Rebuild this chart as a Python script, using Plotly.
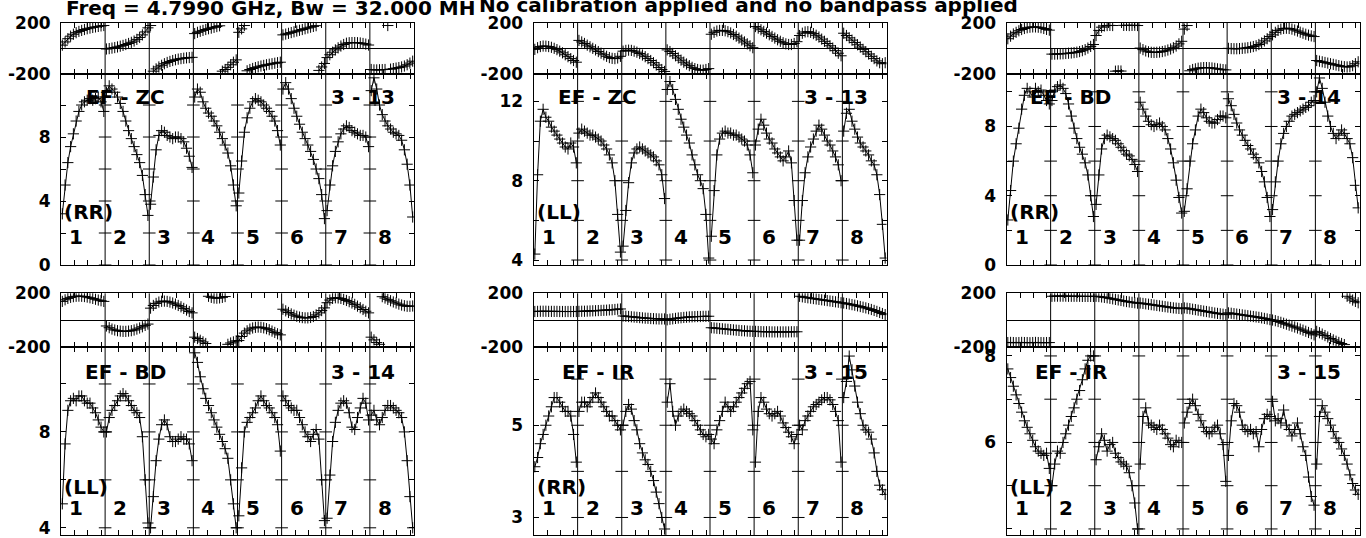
import plotly.graph_objects as go

# ---------------- text content ----------------
title_left = "Freq = 4.7990 GHz, Bw = 32.000 MH"
title_right = "No calibration applied and no bandpass applied"
if_labels = ["1", "2", "3", "4", "5", "6", "7", "8"]
baselines = ["EF - ZC", "EF - ZC", "EF - BD", "EF - BD", "EF - IR", "EF - IR"]
polarizations = ["(RR)", "(LL)", "(RR)", "(LL)", "(RR)", "(LL)"]
source_ids = ["3 - 13", "3 - 13", "3 - 14", "3 - 14", "3 - 15", "3 - 15"]

# ---------------- amplitudes (per IF) ----------------
amp_ef_zc_rr = [
    [3.2, 5.0, 6.4, 7.4, 8.2, 9.0, 9.6, 10.0, 10.2, 10.3, 10.4, 10.3, 10.4, 10.5, 10.2, 9.6],
    [10.8, 11.2, 11.0, 10.8, 10.5, 10.1, 9.6, 9.0, 8.4, 7.9, 7.4, 6.9, 6.4, 5.6, 4.4, 3.1],
    [3.8, 5.5, 7.2, 8.1, 8.4, 8.3, 8.1, 8.0, 7.9, 8.0, 8.0, 7.9, 7.7, 7.3, 6.8, 6.1],
    [10.5, 11.0, 10.8, 10.2, 9.8, 9.5, 9.3, 9.0, 8.7, 8.3, 7.9, 7.5, 7.0, 6.2, 5.0, 3.7],
    [4.5, 6.5, 8.3, 9.2, 9.8, 10.2, 10.4, 10.3, 10.2, 10.0, 9.8, 9.6, 9.3, 9.0, 8.4, 7.5],
    [11.0, 11.4, 11.0, 10.4, 9.8, 9.3, 8.8, 8.3, 7.9, 7.5, 7.1, 6.6, 6.0, 5.4, 4.4, 2.9],
    [3.4, 5.0, 6.2, 7.1, 7.7, 8.2, 8.5, 8.7, 8.6, 8.4, 8.3, 8.2, 8.1, 8.1, 8.0, 7.4],
    [10.9, 11.7, 11.0, 10.0, 9.4, 9.0, 8.7, 8.5, 8.3, 8.2, 8.1, 7.8, 7.2, 6.3, 5.0, 3.0],
]
amp_ef_zc_ll = [
    [4.3, 8.3, 11.0, 11.6, 11.2, 11.0, 10.7, 10.5, 10.3, 10.1, 9.9, 9.7, 9.6, 9.9, 9.7, 8.9],
    [10.4, 10.6, 10.5, 10.4, 10.3, 10.3, 10.2, 10.1, 10.0, 9.8, 9.6, 9.3, 8.9, 8.0, 6.3, 4.4],
    [4.7, 6.5, 7.9, 8.9, 9.4, 9.6, 9.7, 9.6, 9.5, 9.4, 9.3, 9.2, 9.0, 8.8, 8.3, 7.1],
    [12.6, 13.0, 12.6, 12.1, 11.6, 11.1, 10.7, 10.3, 9.9, 9.3, 8.8, 8.3, 8.0, 7.6, 6.3, 4.1],
    [5.2, 7.5, 9.3, 10.1, 10.4, 10.5, 10.4, 10.4, 10.3, 10.3, 10.2, 10.1, 10.0, 9.8, 9.3, 8.4],
    [9.8, 10.6, 11.1, 10.8, 10.4, 10.1, 9.9, 9.6, 9.4, 9.2, 9.0, 9.2, 9.5, 8.9, 7.0, 5.0],
    [5.0, 7.0, 8.4, 9.2, 9.7, 10.1, 10.5, 10.8, 10.6, 10.3, 10.0, 9.8, 9.5, 9.2, 8.8, 8.0],
    [10.5, 11.4, 11.6, 11.0, 10.6, 10.2, 9.9, 9.7, 9.5, 9.3, 9.0, 8.8, 8.3, 7.3, 5.8, 4.1],
]
amp_ef_bd_rr = [
    [2.6, 4.3, 6.0, 7.0, 7.9, 9.0, 9.8, 10.2, 10.0, 9.7, 10.2, 10.0, 10.1, 9.8, 9.5, 9.3],
    [9.5, 10.1, 10.3, 10.4, 10.2, 9.9, 9.3, 8.6, 7.9, 7.3, 6.8, 6.4, 5.9, 5.2, 4.0, 2.8],
    [3.5, 5.2, 6.7, 7.3, 7.5, 7.4, 7.3, 7.2, 7.0, 6.8, 6.6, 6.4, 6.3, 6.1, 5.8, 5.4],
    [9.4, 9.0, 8.6, 8.3, 8.1, 8.0, 8.1, 8.2, 8.0, 7.8, 7.3, 6.7, 5.9, 4.9, 3.9, 3.0],
    [3.1, 4.4, 6.0, 7.0, 7.8, 8.6, 9.0, 8.8, 8.5, 8.3, 8.2, 8.2, 8.4, 8.6, 8.6, 8.5],
    [9.6, 9.2, 8.7, 8.2, 7.8, 7.5, 7.2, 6.9, 6.7, 6.4, 6.2, 5.9, 5.4, 4.8, 3.9, 2.8],
    [3.2, 4.8, 6.0, 7.0, 7.6, 8.0, 8.3, 8.6, 8.7, 8.8, 8.9, 9.0, 9.1, 9.2, 9.4, 9.5],
    [10.0, 10.8, 10.2, 9.4, 8.6, 8.0, 7.6, 7.3, 7.5, 7.8, 7.6, 7.3, 7.0, 6.2, 4.6, 3.3],
]
amp_ef_bd_ll = [
    [5.0, 7.5, 8.9, 9.3, 9.4, 9.3, 9.5, 9.5, 9.3, 9.2, 9.2, 9.0, 8.8, 8.5, 8.2, 8.0],
    [8.0, 8.6, 8.9, 9.1, 9.3, 9.5, 9.6, 9.5, 9.3, 9.1, 8.9, 8.8, 8.6, 7.8, 6.0, 4.2],
    [4.0, 5.3, 6.8, 7.7, 8.3, 8.5, 8.3, 7.8, 7.6, 7.6, 7.7, 7.8, 7.7, 7.7, 7.5, 6.8],
    [11.3, 10.9, 10.3, 9.8, 9.4, 9.1, 8.8, 8.5, 8.2, 7.9, 7.6, 7.3, 6.9, 6.0, 5.0, 4.0],
    [4.5, 6.5, 8.0, 8.4, 8.6, 8.8, 9.0, 9.3, 9.5, 9.3, 9.1, 9.0, 8.8, 8.6, 8.3, 7.2],
    [9.5, 9.3, 9.1, 9.0, 8.9, 8.9, 8.6, 8.3, 8.0, 7.8, 7.6, 7.9, 8.1, 7.7, 6.0, 4.3],
    [4.4, 6.2, 7.6, 8.4, 8.9, 9.2, 9.3, 9.2, 8.8, 8.2, 8.1, 8.6, 9.0, 9.4, 9.2, 8.5],
    [8.7, 8.9, 8.5, 8.3, 8.6, 8.9, 9.1, 9.1, 9.0, 8.9, 8.8, 8.6, 8.0, 6.8, 5.3, 4.0],
]
amp_ef_ir_rr = [
    [4.1, 4.3, 4.6, 4.8, 5.0, 5.2, 5.4, 5.6, 5.6, 5.5, 5.4, 5.3, 5.3, 5.2, 4.8, 4.2],
    [5.3, 5.5, 5.5, 5.4, 5.5, 5.6, 5.7, 5.6, 5.5, 5.4, 5.3, 5.2, 5.2, 5.1, 5.0, 4.9],
    [5.0, 5.3, 5.45, 5.35, 5.1, 4.9, 4.6, 4.4, 4.25, 4.15, 4.0, 3.8, 3.55, 3.3, 3.0, 2.75],
    [5.5, 5.9, 5.3, 5.0, 5.2, 5.3, 5.35, 5.3, 5.25, 5.2, 5.1, 5.0, 4.9, 4.8, 4.75, 4.8],
    [4.7, 4.6, 4.9, 5.1, 5.3, 5.5, 5.4, 5.3, 5.4, 5.5, 5.6, 5.7, 5.8, 5.9, 5.95, 4.9],
    [4.2, 5.3, 5.6, 5.5, 5.35, 5.25, 5.2, 5.25, 5.3, 5.2, 5.05, 4.95, 4.85, 4.75, 4.6, 4.8],
    [5.0, 4.9, 5.1, 5.2, 5.3, 5.4, 5.45, 5.5, 5.55, 5.6, 5.6, 5.55, 5.45, 5.3, 5.1, 4.2],
    [5.6, 5.95, 6.5, 6.2, 5.85, 5.5, 5.25, 5.0, 4.9, 4.85, 4.7, 4.4, 4.0, 3.7, 3.6, 3.5],
]
amp_ef_ir_ll = [
    [7.7, 7.5, 7.3, 7.1, 6.9, 6.7, 6.5, 6.35, 6.2, 6.05, 5.9, 5.8, 5.75, 5.7, 5.75, 5.4],
    [5.0, 5.5, 5.8, 5.75, 6.0, 6.2, 6.4, 6.6, 6.8, 7.0, 7.2, 7.45, 7.7, 7.9, 8.0, 8.0],
    [5.6, 5.9, 6.2, 6.05, 5.8, 5.95, 6.0, 5.75, 5.65, 5.55, 5.5, 5.45, 5.3, 5.0, 4.6, 4.0],
    [5.5, 6.6, 6.8, 6.45, 6.4, 6.35, 6.3, 6.4, 6.3, 6.2, 6.1, 5.95, 5.9, 6.05, 6.0, 6.0],
    [6.45, 6.7, 6.9, 7.0, 6.85, 6.65, 6.5, 6.35, 6.25, 6.2, 6.25, 6.35, 6.4, 6.2, 5.95, 5.1],
    [5.7, 6.5, 6.9, 6.85, 6.7, 6.4, 6.3, 6.25, 6.3, 6.2, 6.25, 5.9, 6.3, 6.55, 6.65, 6.6],
    [6.95, 6.5, 6.55, 6.45, 6.75, 6.4, 6.3, 6.15, 6.3, 6.45, 6.2, 5.9, 5.7, 5.2, 4.75, 4.55],
    [5.5, 6.6, 6.85, 6.7, 6.55, 6.4, 6.25, 6.1, 6.0, 5.85, 5.7, 5.5, 5.25, 5.05, 4.9, 4.8],
]

# ---------------- phases in degrees (per IF) ----------------
phase_ef_zc_rr = [
    [25, 50, 75, 95, 110, 122, 132, 140, 147, 153, 158, 163, 167, 171, 175, 178],
    [-5, -2, 2, 6, 11, 17, 23, 30, 38, 47, 57, 70, 85, 105, 128, 160],
    [178, -178, -160, -145, -132, -120, -110, -102, -95, -89, -84, -80, -77, -74, -72, -70],
    [115, 125, 133, 140, 147, 153, 158, 164, 170, 176, -178, -165, -148, -128, -108, -90],
    [125, 152, 178, -175, -165, -157, -150, -144, -138, -133, -128, -124, -120, -116, -112, -108],
    [105, 111, 117, 123, 129, 135, 141, 147, 153, 159, 165, 171, 177, -172, -145, -118],
    [-72, -50, -30, -12, 4, 18, 30, 40, 44, 45, 45, 44, 42, 38, 33, 26],
    [-165, -168, -168, -167, -166, -165, 178, -162, -158, -154, -150, -145, -138, -128, -115, -100],
]
phase_ef_zc_ll = [
    [-8, 5, 14, 18, 17, 14, 8, 0, -10, -22, -35, -50, -65, -80, -95, -108],
    [62, 50, 38, 25, 12, 0, -12, -25, -38, -50, -62, -72, -78, -80, -75, -62],
    [-22, -16, -14, -16, -22, -30, -40, -52, -65, -80, -95, -112, -130, -150, -165, -180],
    [-12, -25, -40, -58, -75, -92, -108, -122, -135, -148, -158, -165, -170, -170, -165, -158],
    [110, 125, 135, 140, 140, 137, 130, 120, 108, 95, 80, 65, 50, 35, 20, 5],
    [170, 158, 145, 132, 119, 106, 93, 80, 67, 55, 44, 35, 30, 30, 38, 52],
    [100, 118, 128, 130, 125, 115, 102, 88, 72, 55, 38, 20, 2, -18, -38, -58],
    [118, 100, 82, 64, 46, 28, 10, -8, -26, -44, -62, -80, -98, -112, -120, -112],
]
phase_ef_bd_rr = [
    [75, 95, 112, 125, 137, 147, 155, 161, 165, 167, 167, 165, 161, 155, 148, 142],
    [-45, -45, -44, -43, -42, -40, -38, -36, -33, -30, -25, -18, -10, 2, 15, 30],
    [100, 140, 165, 175, 178, 179, 178, -178, -176, -177, 179, 180, 178, 179, 180, 178],
    [2, -10, -20, -27, -31, -32, -31, -29, -25, -20, -13, -5, 5, 18, 35, 55],
    [150, 178, -175, -165, -160, -155, -152, -150, -150, -151, -153, -156, -160, -163, -166, -168],
    [0, -2, -3, -3, -2, 0, 2, 5, 9, 14, 20, 30, 42, 58, 75, 92],
    [105, 125, 140, 150, 155, 157, 155, 150, 143, 135, 126, 118, 110, 103, 97, 92],
    [-95, -100, -105, -110, -115, -120, -125, -130, -135, -140, -143, -145, -143, -135, -120, -105],
]
phase_ef_bd_ll = [
    [140, 152, 162, 170, 175, 178, 179, 178, 176, 172, 167, 162, 156, 150, 145, 140],
    [-42, -55, -65, -72, -77, -80, -82, -82, -80, -77, -72, -65, -57, -48, -38, -28],
    [90, 110, 125, 135, 141, 142, 140, 135, 128, 120, 110, 100, 88, 76, 65, 55],
    [-125, -135, -148, -160, -172, 178, 170, 165, 164, 166, 170, 176, -178, -168, -160, -152],
    [-150, -120, -95, -78, -65, -57, -52, -50, -52, -56, -62, -70, -80, -90, -100, -108],
    [82, 70, 58, 47, 38, 30, 24, 20, 18, 18, 21, 28, 40, 55, 72, 92],
    [130, 150, 162, 167, 166, 162, 155, 147, 138, 128, 118, 105, 93, 80, 67, 55],
    [-125, -145, -165, -178, 175, 165, 155, 145, 136, 128, 120, 113, 108, 104, 104, 106],
]
phase_ef_ir_rr = [
    [65, 66, 67, 67, 67, 66, 66, 66, 66, 65, 65, 65, 65, 65, 65, 65],
    [66, 67, 67, 68, 69, 70, 71, 72, 73, 74, 75, 77, 78, 80, 82, 84],
    [32, 30, 28, 26, 24, 22, 20, 18, 16, 15, 13, 12, 11, 10, 10, 10],
    [4, 8, 11, 14, 17, 19, 21, 23, 25, 26, 27, 28, 28, 29, 29, 30],
    [-55, -57, -59, -61, -63, -65, -67, -69, -71, -73, -75, -77, -78, -80, -81, -82],
    [-82, -83, -84, -85, -85, -85, -86, -86, -86, -86, -86, -86, -86, -85, -85, -85],
    [178, 174, 170, 167, 164, 161, 158, 155, 152, 149, 146, 143, 140, 137, 134, 130],
    [128, 124, 120, 116, 112, 107, 102, 97, 92, 86, 80, 73, 66, 58, 50, 42],
]
phase_ef_ir_ll = [
    [-165, -164, -165, -166, -165, -164, -165, -165, -166, -165, -164, -165, -165, -166, -165, -165],
    [178, 179, 179, 179, 179, 179, 178, 178, 178, 178, 178, 177, 177, 177, 177, 177],
    [178, 176, 173, 170, 167, 163, 159, 155, 151, 147, 143, 139, 136, 133, 130, 127],
    [128, 125, 122, 119, 116, 113, 110, 107, 104, 101, 98, 95, 92, 90, 88, 86],
    [92, 89, 86, 82, 79, 75, 72, 68, 65, 61, 58, 54, 51, 48, 45, 42],
    [55, 52, 49, 46, 43, 40, 37, 34, 31, 28, 25, 22, 18, 14, 10, 5],
    [2, -3, -9, -15, -22, -29, -36, -43, -50, -57, -65, -73, -81, -90, -99, -108],
    [-82, -92, -102, -113, -124, -135, -145, -155, -164, -172, -180, 178, 165, 150, 140, 130],
]

amps = [amp_ef_zc_rr, amp_ef_zc_ll, amp_ef_bd_rr, amp_ef_bd_ll, amp_ef_ir_rr, amp_ef_ir_ll]
phases = [phase_ef_zc_rr, phase_ef_zc_ll, phase_ef_bd_rr, phase_ef_bd_ll, phase_ef_ir_rr, phase_ef_ir_ll]

# ---------------- geometry / styles ----------------
W_PX, H_PX = 1366, 538
COL_X0 = [61, 533.5, 1006.5]
PANEL_W = 353
PHASE_TOP = [22.7, 293.3]
AMP_TOP = [74, 347.3]
AMP_BOT = [265, 535]
LABEL_DY = [23, 24.4]
POL_DY = [53.3, 48.3]
NUM_DY = [28.3, 26.7]

amp_axes = [
    dict(range=[0, 11.94], tickvals=[0, 2, 4, 6, 8, 10], ticktext=["0", "", "4", "", "8", ""]),
    dict(range=[3.75, 13.38], tickvals=[4, 6, 8, 10, 12], ticktext=["4", "", "8", "", "12"]),
    dict(range=[0, 11.03], tickvals=[0, 2, 4, 6, 8, 10], ticktext=["0", "", "4", "", "8", ""]),
    dict(range=[3.70, 11.53], tickvals=[4, 6, 8, 10], ticktext=["4", "", "8", ""]),
    dict(range=[2.62, 6.69], tickvals=[3, 4, 5, 6], ticktext=["3", "", "5", ""]),
    dict(range=[3.86, 8.2], tickvals=[4, 5, 6, 7, 8], ticktext=["4", "", "6", "", "8"]),
]

TICK_FONT = dict(family="DejaVu Sans", size=17, color="black", weight="bold")
LABEL_FONT = dict(family="DejaVu Sans", size=20, color="black", weight="bold")
MARKER = dict(symbol="cross-thin", size=8, color="black", line=dict(width=1, color="black"))


def fx(x):
    return x / W_PX


def fy(y):
    return 1 - y / H_PX


def chan_x(i, j, n):
    return i + 0.03 + 0.94 * j / (n - 1)


fig = go.Figure()
layout = dict(width=W_PX, height=H_PX, autosize=False,
              margin=dict(l=0, r=0, t=0, b=0, pad=0, autoexpand=False),
              paper_bgcolor="white", plot_bgcolor="white", showlegend=False)
shapes, annotations = [], []
xtickvals = [i + f for i in range(8) for f in (0.31, 0.61, 0.91)]

for p in range(6):
    col, row = p % 3, p // 3
    x0 = COL_X0[col]
    kp, ka = 2 * p + 1, 2 * p + 2
    names = {}
    for k in (kp, ka):
        names[k] = ("x" if k == 1 else f"x{k}", "y" if k == 1 else f"y{k}",
                    "xaxis" if k == 1 else f"xaxis{k}", "yaxis" if k == 1 else f"yaxis{k}")

    # amplitude trace
    ax_, ay_ = [], []
    for i, seg in enumerate(amps[p]):
        for j, v in enumerate(seg):
            ax_.append(chan_x(i, j, len(seg)))
            ay_.append(v)
        ax_.append(None)
        ay_.append(None)
    fig.add_trace(go.Scatter(x=ax_, y=ay_, xaxis=names[ka][0], yaxis=names[ka][1],
                             mode="lines+markers", line=dict(color="black", width=1),
                             marker=MARKER, hoverinfo="skip"))
    # phase trace (break at wraps)
    px_, py_ = [], []
    for i, seg in enumerate(phases[p]):
        prev = None
        for j, v in enumerate(seg):
            if prev is not None and abs(v - prev) > 180:
                px_.append(None)
                py_.append(None)
            px_.append(chan_x(i, j, len(seg)))
            py_.append(v)
            prev = v
        px_.append(None)
        py_.append(None)
    fig.add_trace(go.Scatter(x=px_, y=py_, xaxis=names[kp][0], yaxis=names[kp][1],
                             mode="lines+markers", line=dict(color="black", width=1),
                             marker=MARKER, hoverinfo="skip"))
    # separator ticks on amplitude
    tv = amp_axes[p]["tickvals"]
    sx = [i for i in range(1, 8) for t in tv]
    sy = [t for i in range(1, 8) for t in tv]
    fig.add_trace(go.Scatter(x=sx, y=sy, xaxis=names[ka][0], yaxis=names[ka][1], mode="markers",
                             marker=dict(symbol="line-ew", size=9, line=dict(width=1, color="black")),
                             hoverinfo="skip"))

    xdom = [fx(x0), fx(x0 + PANEL_W)]
    common_x = dict(domain=xdom, range=[0, 8], showgrid=False, zeroline=False, showline=True,
                    linecolor="black", linewidth=1, mirror="ticks", ticks="inside", ticklen=5,
                    tickcolor="black", tickvals=xtickvals, showticklabels=False)
    layout[names[kp][2]] = dict(common_x, anchor=names[kp][1])
    layout[names[ka][2]] = dict(common_x, anchor=names[ka][1])
    common_y = dict(showgrid=False, showline=True, linecolor="black", linewidth=1, mirror="ticks",
                    ticks="inside", ticklen=5, tickcolor="black", tickfont=TICK_FONT,
                    ticklabelstandoff=6)
    layout[names[kp][3]] = dict(common_y, anchor=names[kp][0],
                                domain=[fy(AMP_TOP[row]), fy(PHASE_TOP[row])],
                                range=[-200, 200], tickvals=[-200, 200], ticktext=["-200", "200"],
                                zeroline=True, zerolinecolor="black", zerolinewidth=1)
    layout[names[ka][3]] = dict(common_y, anchor=names[ka][0],
                                domain=[fy(AMP_BOT[row]), fy(AMP_TOP[row])],
                                zeroline=False, **amp_axes[p])
    # IF separators
    for i in range(1, 8):
        shapes.append(dict(type="line", xref=names[kp][0], yref="paper", x0=i, x1=i,
                           y0=fy(AMP_BOT[row]), y1=fy(PHASE_TOP[row]),
                           line=dict(color="black", width=1)))
    # labels
    ly = fy(AMP_TOP[row] + LABEL_DY[row])
    annotations.append(dict(text=baselines[p], x=fx(x0 + 64), y=ly, xref="paper", yref="paper",
                            xanchor="center", yanchor="middle", showarrow=False, font=LABEL_FONT))
    annotations.append(dict(text=source_ids[p], x=fx(x0 + 302), y=ly, xref="paper", yref="paper",
                            xanchor="center", yanchor="middle", showarrow=False, font=LABEL_FONT))
    annotations.append(dict(text=polarizations[p], x=fx(x0 + 1), y=fy(AMP_BOT[row] - POL_DY[row]),
                            xref="paper", yref="paper", xanchor="left", yanchor="middle",
                            showarrow=False, font=LABEL_FONT))
    for i, lab in enumerate(if_labels):
        annotations.append(dict(text=lab, x=fx(x0 + i * PANEL_W / 8 + 15),
                                y=fy(AMP_BOT[row] - NUM_DY[row]), xref="paper", yref="paper",
                                xanchor="center", yanchor="middle", showarrow=False, font=LABEL_FONT))

annotations.append(dict(text=title_left, x=fx(64), y=fy(8), xref="paper", yref="paper",
                        xanchor="left", yanchor="middle", showarrow=False, font=LABEL_FONT))
annotations.append(dict(text=title_right, x=fx(477), y=fy(5), xref="paper", yref="paper",
                        xanchor="left", yanchor="middle", showarrow=False, font=LABEL_FONT))

layout["shapes"] = shapes
layout["annotations"] = annotations
fig.update_layout(**layout)
fig.write_html("out.html", config={"displayModeBar": False},
               post_script="document.body.style.margin='0px';")
